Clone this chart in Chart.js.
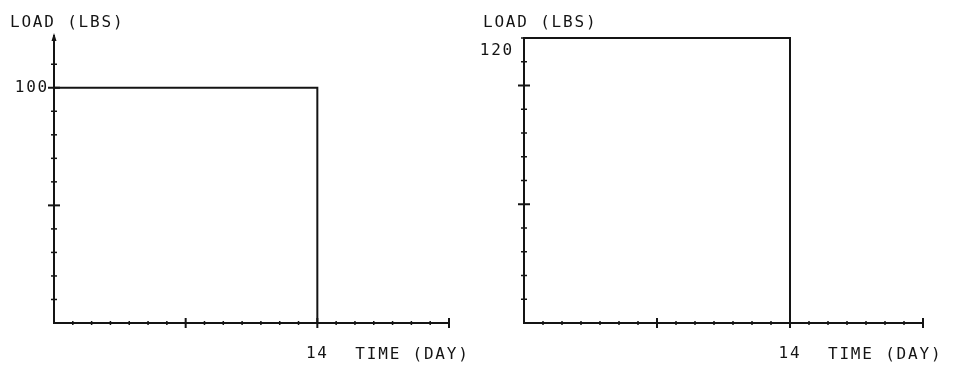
<!DOCTYPE html>
<html>
<head>
<meta charset="utf-8">
<script src="https://cdn.jsdelivr.net/npm/chart.js@4/dist/chart.umd.min.js"></script>
<style>
  body { margin: 0; background: #fff; }
  .wrap { position: absolute; top: 0; width: 479px; height: 367px; }
</style>
</head>
<body>
<div class="wrap" style="left:0"><canvas id="loadLeft" width="479" height="367"></canvas></div>
<div class="wrap" style="left:479px"><canvas id="loadRight" width="479" height="367"></canvas></div>
<script>
// step loading: constant load until day 14, then released
const days = [0, 14, 14];
const loadLeft = [100, 100, 0];
const loadRight = [120, 120, 0];
const xTickLabels = [14];
const yTickLabelsLeft = [100];
const yTickLabelsRight = [120];
const yTitle = 'LOAD (LBS)';
const xTitle = 'TIME (DAY)';

const INK = '#141414';
const FONT = "'DejaVu Sans Mono', monospace";
const TEXT = '16px ' + FONT;
const SPACING = '1.8px';

// short tick marks crossing the axes, plotter style, plus the labels
const plotterAxes = {
  id: 'plotterAxes',
  beforeDraw(chart) {
    chart.ctx.letterSpacing = SPACING;
  },
  afterDraw(chart, args, opts) {
    const ctx = chart.ctx;
    const xs = chart.scales.x, ys = chart.scales.y;
    const ax = xs.getPixelForValue(0), ay = ys.getPixelForValue(0);
    ctx.save();
    ctx.strokeStyle = INK;
    ctx.fillStyle = INK;

    xs.ticks.forEach(t => {
      if (t.value === 0) return;
      const px = xs.getPixelForValue(t.value);
      const big = t.value % 7 === 0;
      const h = big ? 5 : 2;
      ctx.lineWidth = big ? 2 : 1.5;
      ctx.beginPath();
      ctx.moveTo(px, ay - h);
      ctx.lineTo(px, ay + h);
      ctx.stroke();
    });

    ys.ticks.forEach(t => {
      if (t.value === 0 || t.value % 10 !== 0) return;
      const py = ys.getPixelForValue(t.value);
      const big = t.value % 50 === 0;
      const w = big ? 6 : 3;
      ctx.lineWidth = big ? 2 : 1.5;
      ctx.beginPath();
      ctx.moveTo(ax - w, py);
      ctx.lineTo(ax + w, py);
      ctx.stroke();
    });

    if (opts.arrow) {
      const top = chart.chartArea.top;
      ctx.beginPath();
      ctx.moveTo(ax, top - 3);
      ctx.lineTo(ax - 2.5, top + 5);
      ctx.lineTo(ax + 2.5, top + 5);
      ctx.closePath();
      ctx.fill();
    }

    ctx.letterSpacing = SPACING;
    ctx.font = TEXT;
    ctx.textBaseline = 'middle';
    ctx.textAlign = 'right';
    opts.yLabels.forEach(v => {
      ctx.fillText(String(v), ax - opts.yLabelGap, ys.getPixelForValue(v) + opts.yLabelDy);
    });
    ctx.textAlign = 'left';
    ctx.textBaseline = 'alphabetic';
    ctx.fillText(yTitle, opts.titleX, 27);
    ctx.fillText(xTitle, xs.getPixelForValue(14) + 38, 359);
    ctx.restore();
  }
};

function makeChart(id, load, yMax, pad, axisX, opts) {
  const ctx = document.getElementById(id).getContext('2d');
  return new Chart(ctx, {
    type: 'line',
    data: {
      datasets: [{
        data: days.map((d, i) => ({ x: d, y: load[i] })),
        borderColor: INK,
        borderWidth: 2,
        pointRadius: 0,
        tension: 0,
        clip: 6
      }]
    },
    options: {
      responsive: false,
      animation: false,
      layout: { padding: pad },
      plugins: {
        legend: { display: false },
        tooltip: { enabled: false },
        plotterAxes: opts
      },
      scales: {
        x: {
          type: 'linear',
          min: 0,
          max: 21,
          grid: { display: false, drawTicks: false },
          border: { display: true, color: INK, width: 2 },
          ticks: {
            stepSize: 1,
            autoSkip: false,
            maxRotation: 0,
            padding: 21,
            color: INK,
            font: { family: FONT, size: 16 },
            callback: v => xTickLabels.includes(v) ? String(v) : ''
          },
          afterFit: s => { s.height = 44; }
        },
        y: {
          min: 0,
          max: yMax,
          grid: { display: false, drawTicks: false },
          border: { display: true, color: INK, width: 2 },
          ticks: {
            stepSize: 10,
            autoSkip: false,
            color: 'rgba(0,0,0,0)',
            callback: () => ''
          },
          afterFit: s => { s.width = axisX; }
        }
      }
    },
    plugins: [plotterAxes]
  });
}

makeChart('loadLeft', loadLeft, 122,
  { top: 36, right: 30, left: 0, bottom: 0 }, 54,
  { arrow: true, titleX: 10, yLabels: yTickLabelsLeft, yLabelGap: 5, yLabelDy: 0 });
makeChart('loadRight', loadRight, 120,
  { top: 38, right: 35, left: 0, bottom: 0 }, 45,
  { arrow: false, titleX: 4, yLabels: yTickLabelsRight, yLabelGap: 10, yLabelDy: 13 });
</script>
</body>
</html>
